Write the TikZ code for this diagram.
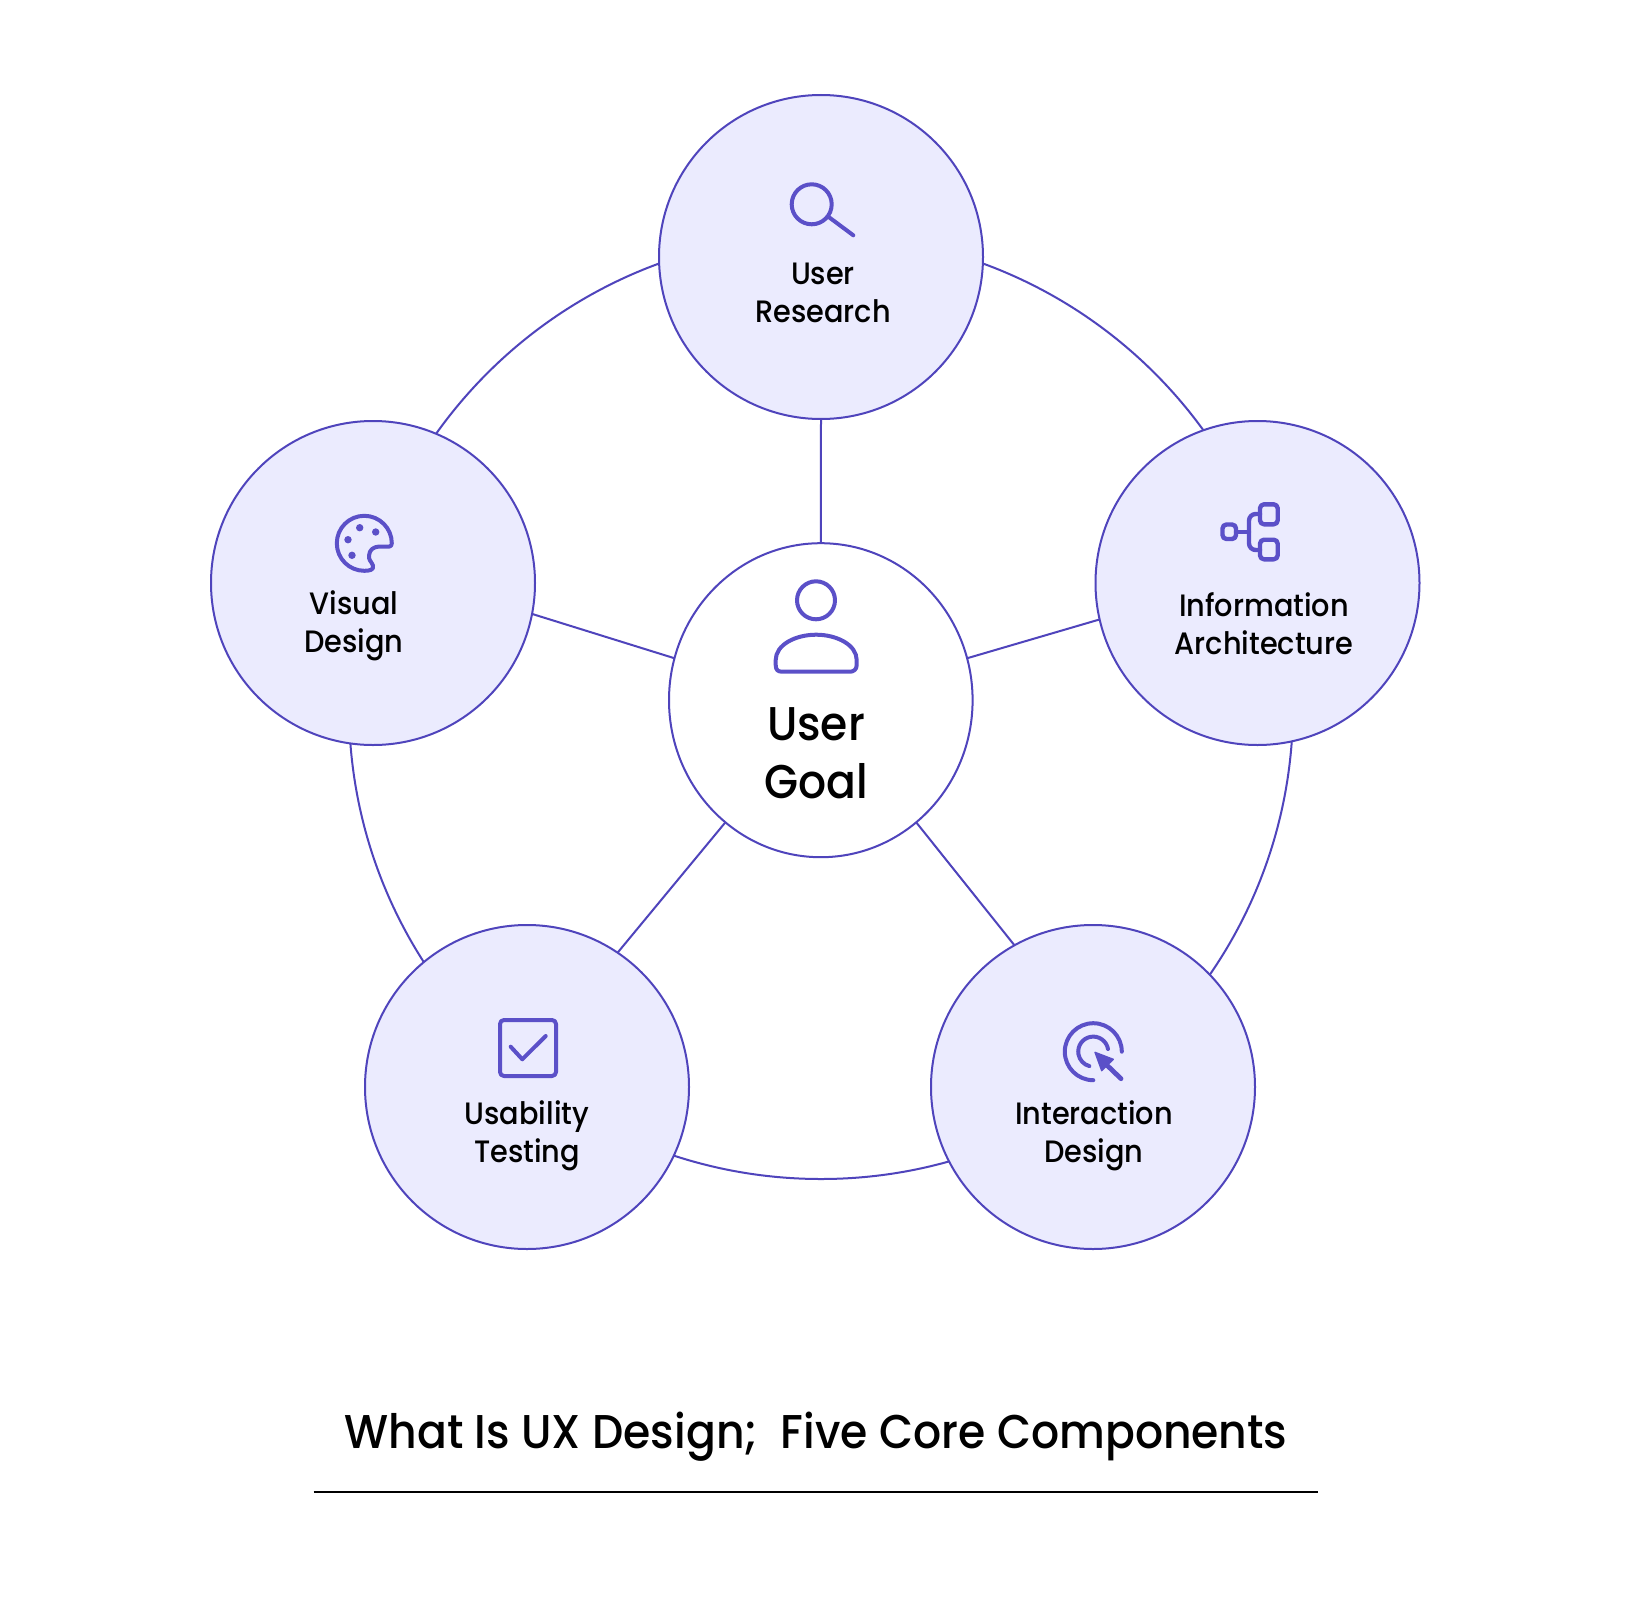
\documentclass[tikz,border=0pt]{standalone}
\usepackage{fontspec}
\setmainfont{Poppins Medium}[FakeStretch=0.93,Ligatures=NoCommon]
\usetikzlibrary{shapes.geometric}
\definecolor{linecol}{HTML}{4F44BC}
\definecolor{iconcol}{HTML}{5B50C8}
\definecolor{fillcol}{HTML}{EBEBFE}
\tikzset{
  x=0.75pt,y=-0.75pt,
  petal/.style={circle,draw=linecol,fill=fillcol,line width=1.5pt,minimum size=243pt,inner sep=0pt,outer sep=0pt},
  hub/.style={ellipse,draw=linecol,fill=white,line width=1.5pt,minimum width=227.7pt,minimum height=235.5pt,inner sep=0pt,outer sep=0pt},
  ring/.style={circle,draw=linecol,line width=1.5pt,minimum size=708pt,inner sep=0pt,outer sep=0pt},
  link/.style={draw=linecol,line width=1.5pt},
  label/.style={align=center,inner sep=0pt,text=black,font=\fontsize{23.2}{28.6}\selectfont},
  hublabel/.style={align=center,inner sep=0pt,text=black,font=\fontsize{35.5}{43.5}\selectfont},
  titletext/.style={inner sep=0pt,text=black,font=\fontsize{35.55}{42}\selectfont},
  icon/.style={draw=iconcol,line width=3.3pt,line cap=round,line join=round},
  iconthin/.style={draw=iconcol,line width=3pt,line cap=round,line join=round},
  dotmark/.style={fill=iconcol,draw=none},
}
\begin{document}
\begin{tikzpicture}
\useasboundingbox (0,0) rectangle (1632,1620);
\fill[white] (0,0) rectangle (1632,1620);

\node[ring] (ringnode) at (821,707) {};
\node[petal] (research) at (821,257) {};
\node[petal] (visual) at (373,583) {};
\node[petal] (info) at (1257.5,583) {};
\node[petal] (usability) at (527,1087) {};
\node[petal] (interaction) at (1093,1087) {};
\node[hub] (goal) at (820.8,700.2) {};

\draw[link] (goal.north) -- (research.south);
\draw[link] (goal.164.4) -- (visual.-11.2);
\draw[link] (goal.16.4) -- (info.193.3);
\draw[link] (goal.-128.4) -- (usability.56.3);
\draw[link] (goal.-52.4) -- (interaction.119.5);

% labels
\node[label] (researchlabel) at (823,293) {User\\Research};
\node[label] (visuallabel) at (354,625.5) {Visual\\Design};
\node[label] (infolabel) at (1264,624) {Information\\Architecture};
\node[label] (usabilitylabel) at (527,1135.6) {Usability\\Testing};
\node[label] (interactionlabel) at (1094,1135.6) {Interaction\\Design};
\node[hublabel] (goallabel) at (816,753) {User\\Goal};
\node[titletext] (titlelabel) at (816,1437) {What Is UX Design;\ \ Five Core Components};
\coordinate (ruleL) at (313.5,1492);
\coordinate (ruleR) at (1318,1492);
\draw[black,line width=1.6pt] (ruleL) -- (ruleR);

% search icon
\draw[iconthin] (811.7,204.3) circle[radius=20];
\draw[iconthin] (828.3,216.7) -- (853.3,235.3);

% information architecture icon
\draw[icon,rounded corners=3pt] (1222.5,524.5) rectangle (1236,539);
\draw[icon,rounded corners=3pt] (1260,504.3) rectangle (1277.7,524.3);
\draw[icon,rounded corners=3pt] (1260,539.7) rectangle (1277.7,559.3);
\draw[icon] (1236,532) -- (1249,532);
\draw[icon,rounded corners=5pt] (1260,514) -- (1249,514) -- (1249,550) -- (1260,550);

% palette icon
\draw[iconthin] (391.8,543.3) .. controls (391.8,528.1) and (379.5,515.8) .. (364.3,515.8)
  .. controls (349.1,515.8) and (336.8,528.1) .. (336.8,543.3)
  .. controls (336.8,558.5) and (349.1,570.8) .. (364.3,570.8)
  .. controls (369,570.8) and (374.5,570) .. (373,565.5)
  .. controls (371,561) and (368.5,560) .. (369,555.5)
  .. controls (369.5,550) and (373,547) .. (379,546.5)
  -- (389.5,546.5) .. controls (391,546.5) and (391.8,545) .. (391.8,543.3) -- cycle;
\fill[dotmark] (359.7,527.7) circle[radius=3.7];
\fill[dotmark] (375.7,532) circle[radius=3.7];
\fill[dotmark] (348,539.7) circle[radius=3.7];
\fill[dotmark] (352,555.3) circle[radius=3.7];

% check box icon
\draw[iconthin,rounded corners=3pt] (500,1020) rectangle (556,1076);
\draw[iconthin] (510.7,1046.7) -- (522.3,1059.3) -- (545.7,1036);

% cursor icon
\draw[iconthin] (1121.8,1051.7) arc[start angle=0,end angle=-270,radius=28.5];
\draw[iconthin] (1108,1049) arc[start angle=-10,end angle=-255,radius=15];
\fill[iconcol,draw=iconcol,line width=1pt,line join=round] (1095,1052.3) -- (1113.3,1059.3) -- (1101.7,1070.7) -- cycle;
\draw[icon,line width=3.6pt] (1105,1063.3) -- (1121,1078.7);

% user icon
\draw[iconthin] (816,600.3) circle[radius=19];
\draw[iconthin] (775.7,660) .. controls (775.7,645) and (795,634.7) .. (816.2,634.7)
  .. controls (837,634.7) and (856.7,645) .. (856.7,660)
  -- (856.7,665) .. controls (856.7,670) and (853,671.7) .. (850,671.7)
  -- (782,671.7) .. controls (778,671.7) and (775.7,670) .. (775.7,665) -- cycle;
\end{tikzpicture}
\end{document}
